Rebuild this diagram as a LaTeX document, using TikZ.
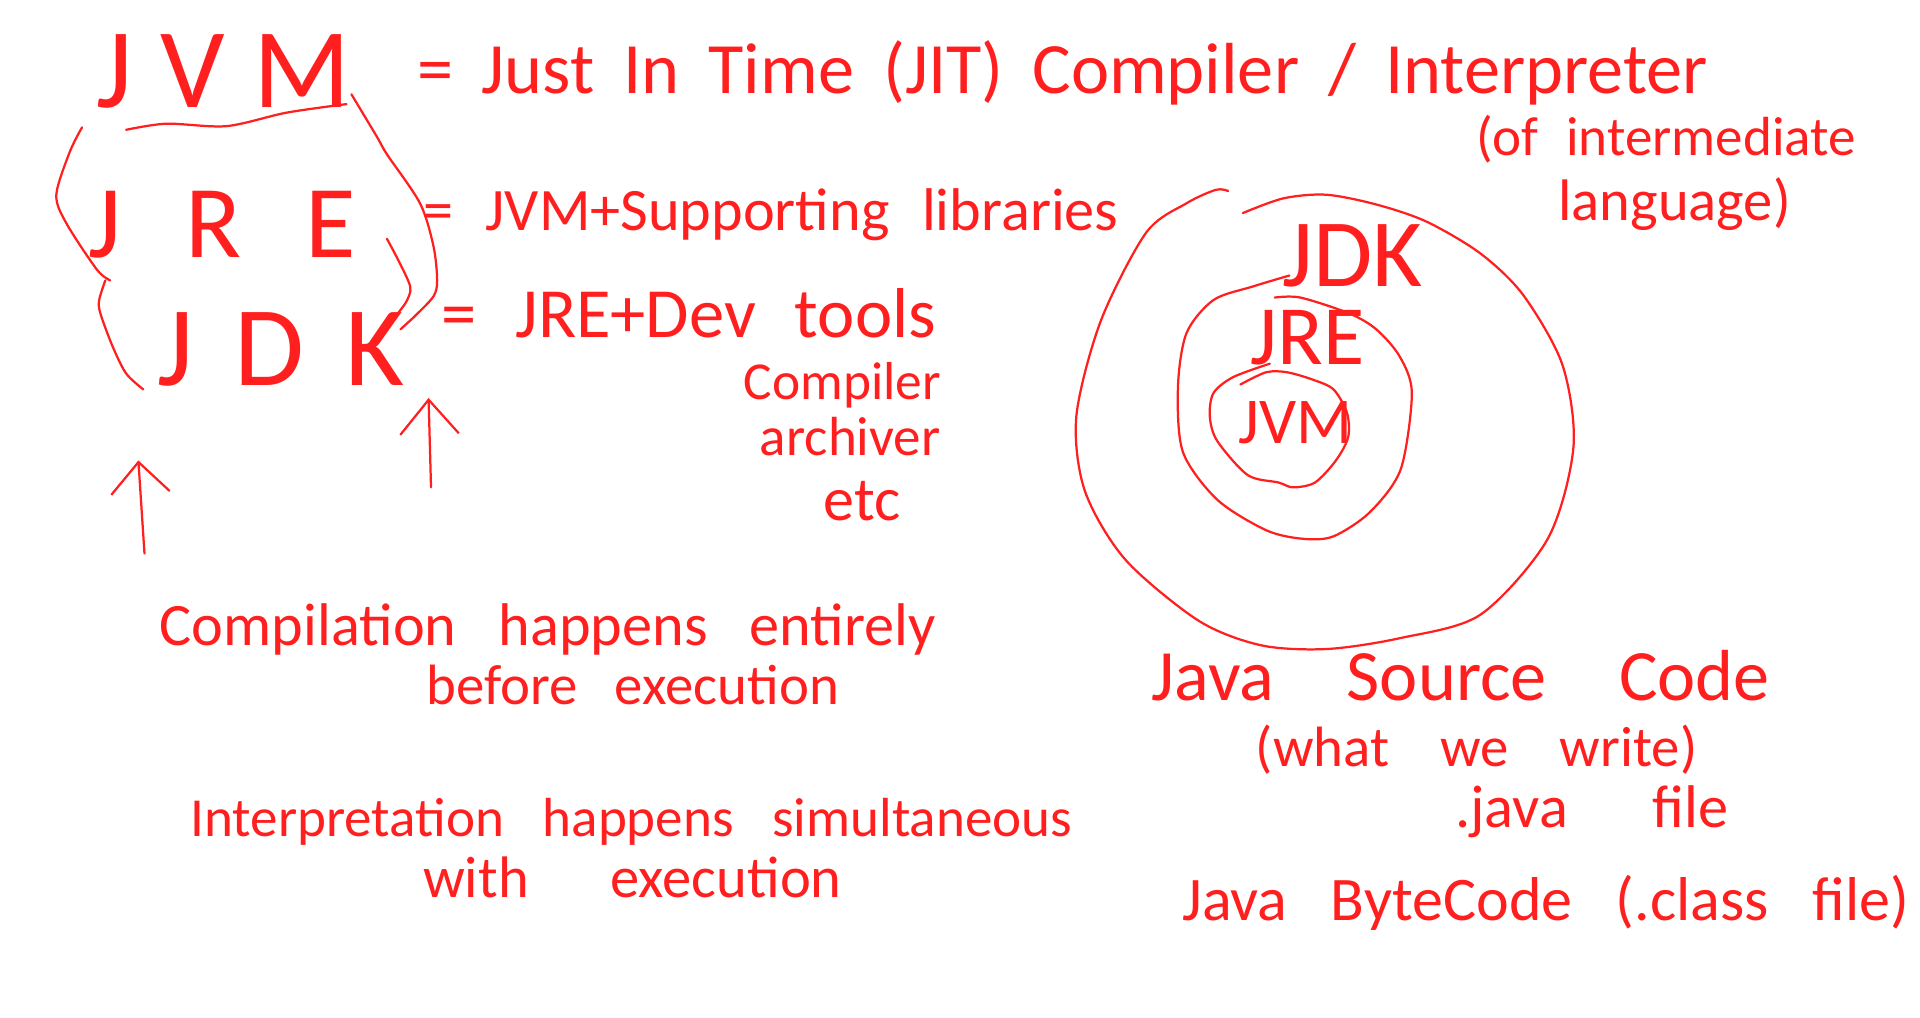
\documentclass[tikz,border=0pt]{standalone}
\usepackage{fontspec}
\setmainfont{Carlito}
\usetikzlibrary{arrows.meta}
\definecolor{ink}{HTML}{FF1F1F}

\begin{document}
\begin{tikzpicture}[x=0.0125cm, y=-0.0125cm,
  pen/.style={draw=ink, line width=0.65pt, line cap=round, line join=round},
  hand/.style 2 args={text=ink, inner sep=0pt, anchor=base west, font={\fontsize{#1}{#1}\selectfont\spaceskip=#2em\relax}}]
\useasboundingbox (0,0) rectangle (1568,831);

% left column: the three names
\node[hand={33}{.25}] (jvm) at (78,88) {J V M};
\node[hand={30}{.62}] (jre) at (72,210) {J R E};
\node[hand={33}{.36}] (jdk) at (128,315) {J D K};

% what each one is
\node[hand={21}{.4}] (jit) at (340,76) {= Just In Time (JIT) Compiler / Interpreter};
\node[hand={16}{.5}] (ofint) at (1205,127) {(of intermediate};
\node[hand={17}{.3}] (lang) at (1272,180) {language)};
\node[hand={17.5}{.54}] (jvmsup) at (345,188) {= JVM+Supporting libraries};
\node[hand={20.5}{.55}] (jredev) at (360,276) {= JRE+Dev tools};
\node[hand={15.5}{.3}] (compiler) at (607,326) {Compiler};
\node[hand={16}{.3}] (archiver) at (620,372) {archiver};
\node[hand={18}{.3}] (etc) at (672,425) {etc};

% brackets round the names
\draw[pen] plot[smooth] coordinates {(103,106) (136,101) (185,103) (234,92) (283,85)};
\draw[pen] plot[smooth] coordinates {(287,77) (308,112) (316,126) (343,166) (354,201) (357,229) (354,242) (340,257) (327,269)};
\draw[pen] plot[smooth] coordinates {(316,195) (325,212) (335,234) (332,246) (324,257)};
\draw[pen] plot[smooth] coordinates {(67,104) (57,124) (46,159) (54,182) (79,220) (90,229)};
\draw[pen] plot[smooth] coordinates {(86,229) (81,245) (82,256) (92,283) (103,305) (117,318)};

% arrows up
\coordinate (lowa) at (118,452);
\coordinate (topa) at (113,376);
\coordinate (lowb) at (352,398);
\coordinate (topb) at (350,325);
\draw[pen,-{Straight Barb[length=9pt,width=17pt]}] (lowa) -- (topa);
\draw[pen,-{Straight Barb[length=10pt,width=17pt]}] (lowb) -- (topb);

% compile vs interpret
\node[hand={17.5}{.7}] (comp1) at (130,527) {Compilation happens entirely};
\node[hand={16.5}{.65}] (comp2) at (348,575) {before execution};
\node[hand={16}{.7}] (int1) at (155,683) {Interpretation happens simultaneous};
\node[hand={17}{1.4}] (int2) at (345,733) {with execution};

% nested rings
\draw[pen] plot[smooth] coordinates {(1003,156) (993,155) (969,166) (936,190) (899,262) (879,340) (886,401) (919,457) (979,507) (1030,527) (1084,530) (1144,521) (1209,502) (1264,440) (1285,365) (1276,298) (1244,241) (1209,207) (1165,181) (1124,167) (1083,159) (1048,162) (1015,174)};
\draw[pen] plot[smooth] coordinates {(1053,225) (1023,234) (991,245) (969,272) (962,316) (966,369) (994,408) (1034,433) (1064,440) (1089,438) (1119,418) (1144,383) (1153,321) (1143,291) (1124,269) (1102,256) (1062,243) (1041,243)};
\draw[pen] plot[smooth] coordinates {(1037,297) (1007,308) (991,321) (988,340) (994,360) (1019,388) (1044,394) (1056,398) (1074,394) (1091,376) (1101,357) (1100,337) (1089,318) (1072,310) (1051,304) (1034,304) (1013,314)};
\node[hand={28}{.3}] (cjdk) at (1047,234) {JDK};
\node[hand={24.5}{.3}] (cjre) at (1021,298) {JRE};
\node[hand={19}{.3}] (cjvm) at (1011,362) {JVM};

% source and bytecode
\node[hand={21}{1}] (src) at (940,572) {Java Source Code};
\node[hand={16.5}{.9}] (write) at (1025,626) {(what we write)};
\node[hand={17.5}{1.4}] (dotjava) at (1188,676) {.java file};
\node[hand={18}{.7}] (bytecode) at (965,752) {Java ByteCode (.class file)};
\end{tikzpicture}
\end{document}
